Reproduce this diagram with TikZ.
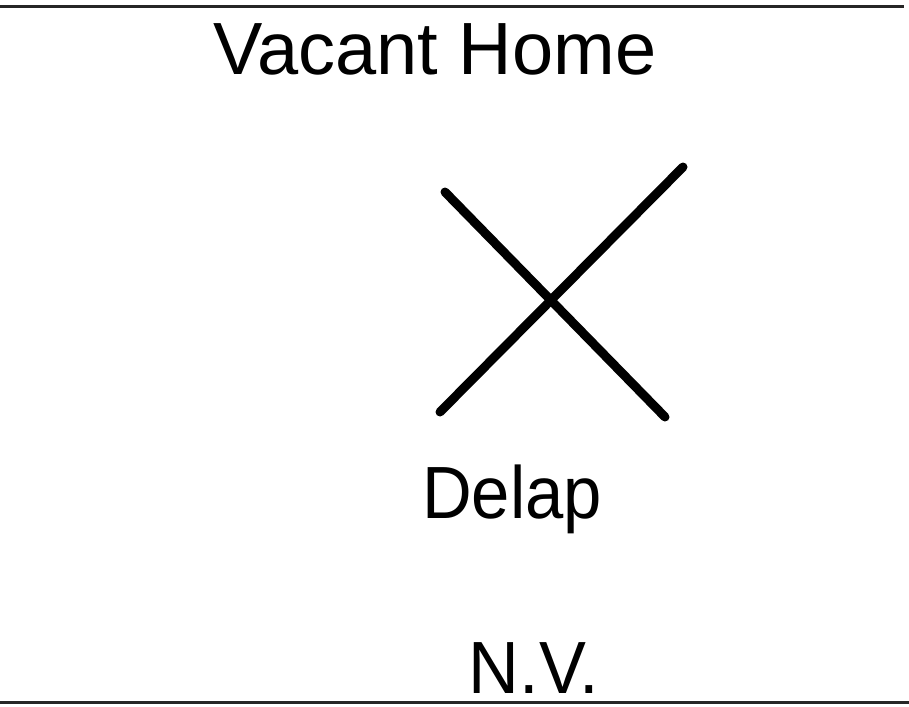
\documentclass[tikz,border=0pt]{standalone}
\usepackage{fontspec}
\setmainfont{Liberation Sans}
\usetikzlibrary{positioning}
\tikzset{label/.style={font=\fontsize{74}{80}\selectfont, inner sep=0, anchor=base},
     rule/.style={draw=black!85, line width=2.5pt},
     cross/.style={draw=black, line width=9pt, line cap=round}
}
\begin{document}
\begin{tikzpicture}[x=1pt, y=-1pt]
    \useasboundingbox (0,0) rectangle (909,706);
    \draw[rule] (0,6.5) -- (904,6.5);
    \draw[rule] (0,702.5) -- (909,702.5);

    \node[label] (title) at (435,75) {Vacant Home};

    % the cross
    \coordinate (nw) at (445,192);
    \coordinate (se) at (665,417);
    \coordinate (ne) at (683,167);
    \coordinate (sw) at (440,412);
    \draw[cross] (nw) -- (se);
    \draw[cross] (ne) -- (sw);

    \node[label] (delap) at (512,518) {\scalebox{0.93}[1]{Delap}};
    \node[label] (nv) at (534,693) {\scalebox{0.95}[1]{N.V.}};
\end{tikzpicture}
\end{document}
